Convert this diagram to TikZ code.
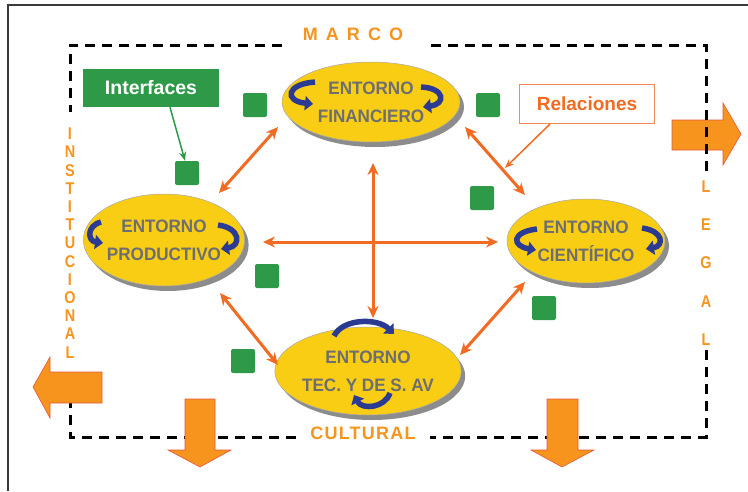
\documentclass[tikz,border=0pt]{standalone}
\usepackage{fontspec}
\setmainfont{Liberation Sans}
\newfontfamily\entfont[FakeStretch=0.95]{Liberation Sans}
\newfontfamily\lblfont[FakeStretch=0.85]{Liberation Sans}
\newfontfamily\marcofont[LetterSpace=45]{Liberation Sans}
\newfontfamily\cultfont[LetterSpace=7]{Liberation Sans}
\usetikzlibrary{shapes.geometric,shadows,arrows.meta}
\definecolor{entyellow}{HTML}{F9CD14}
\definecolor{entborder}{HTML}{A8A8A8}
\definecolor{shadowgray}{HTML}{8C8C8C}
\definecolor{entgray}{HTML}{6D6E71}
\definecolor{relorange}{HTML}{F26B22}
\definecolor{blockorange}{HTML}{F7941D}
\definecolor{blockborder}{HTML}{E2583E}
\definecolor{lblorange}{HTML}{F7941D}
\definecolor{ifgreen}{HTML}{2E9A48}
\definecolor{relborder}{HTML}{F58A5A}
\definecolor{swirlblue}{HTML}{2B3A93}
\definecolor{framegray}{HTML}{3A3A3A}
\tikzset{
  ent/.style={ellipse, draw=entborder, line width=0.5pt, fill=entyellow, inner sep=0pt,
    align=center, text=entgray, font=\entfont\bfseries\fontsize{18}{28}\selectfont,
    drop shadow={shadow xshift=4pt, shadow yshift=-5pt, fill=shadowgray, opacity=1}},
  swirl/.style={draw=swirlblue, line width=5.5pt, -{Triangle[length=8pt,width=14pt]}},
  rel/.style={draw=relorange, line width=3pt, {Stealth[length=12pt,width=11pt]}-{Stealth[length=12pt,width=11pt]}},
  iface/.style={fill=ifgreen, rounded corners=2pt, minimum size=24pt, inner sep=0pt},
  block/.style={fill=blockorange, draw=blockborder, line width=0.6pt, line join=miter},
  frame dash/.style={draw=black, line width=3pt, dash pattern=on 10pt off 7pt},
  lbl/.style={text=lblorange, inner sep=0pt},
}
\begin{document}
\begin{tikzpicture}[x=1pt,y=-1pt]
\useasboundingbox (0,0) rectangle (748,491);
\fill[white] (0,0) rectangle (748,491);
% outer frame
\draw[framegray, line width=2pt] (8,491) -- (8,5) -- (748,5);
% dashed frame (under the arrows)
\draw[frame dash] (282,45) -- (70,45) -- (70,112);
\draw[frame dash] (296,437) -- (70,437) -- (70,400);
\draw[frame dash] (706,350) -- (706,437) -- (430,437);
% block arrows
\draw[block] (102,372) -- (50,372) -- (50,357) -- (33,387) -- (50,418) -- (50,403) -- (102,403) -- cycle;
\draw[block] (185,399) -- (215,399) -- (215,450) -- (231,450) -- (200,467) -- (168,450) -- (185,450) -- cycle;
\draw[block] (547,399) -- (578,399) -- (578,450) -- (594,450) -- (562,467) -- (531,450) -- (547,450) -- cycle;
\draw[block] (672,120) -- (723,120) -- (723,103) -- (741,134) -- (723,165) -- (723,150) -- (672,150) -- cycle;
\draw[frame dash] (431,45) -- (706,45) -- (706,178);
% frame labels
\node[lbl, font=\marcofont\bfseries\fontsize{18}{18}\selectfont] (marco) at (353,34) {MARCO};
\node[lbl, font=\cultfont\bfseries\fontsize{18}{18}\selectfont] (cult) at (363,433) {CULTURAL};
\node[lbl, align=center, font=\lblfont\bfseries\fontsize{17}{18.2}\selectfont] (inst) at (70,243) {I\\N\\S\\T\\I\\T\\U\\C\\I\\O\\N\\A\\L};
\node[lbl, align=center, font=\lblfont\bfseries\fontsize{17}{38.25}\selectfont] (legal) at (706,263) {L\\E\\G\\A\\L};
% entornos
\node[ent, minimum width=178pt, minimum height=80pt] (fin) at (371,102) {ENTORNO\\FINANCIERO};
\node[ent, minimum width=160pt, minimum height=92pt] (prod) at (164,240) {ENTORNO\\PRODUCTIVO};
\node[ent, minimum width=158pt, minimum height=84pt] (cien) at (586,241) {ENTORNO\\CIENTÍFICO};
\node[ent, minimum width=182pt, minimum height=88pt] (tec) at (368,371) {ENTORNO\\TEC. Y DE S. AV};
% swirls
\draw[swirl] (315,82) .. controls (286,84) and (284,101) .. (313,104);
\draw[swirl] (421,87) .. controls (445,88) and (446,104) .. (423,107);
\draw[swirl] (101,222) .. controls (86,226) and (88,241) .. (103,243);
\draw[swirl] (218,225) .. controls (241,228) and (241,246) .. (221,249);
\draw[swirl] (537,229) .. controls (511,232) and (512,246) .. (536,250);
\draw[swirl] (642,228) .. controls (664,231) and (664,246) .. (646,249);
\draw[swirl] (334,336) .. controls (343,318) and (378,318) .. (394,334);
\draw[swirl] (390,393) .. controls (385,408) and (362,410) .. (354,395);
% relation arrows
\coordinate (fpA) at (278,127); \coordinate (fpB) at (219,193);
\coordinate (fcA) at (465,127); \coordinate (fcB) at (525,195);
\coordinate (ptA) at (220,293); \coordinate (ptB) at (278,365);
\coordinate (ctA) at (525,282); \coordinate (ctB) at (460,355);
\coordinate (hA) at (263,242); \coordinate (hB) at (498,242);
\coordinate (vA) at (373,163); \coordinate (vB) at (373,318);
\draw[rel] (fpA) -- (fpB);
\draw[rel] (fcA) -- (fcB);
\draw[rel] (ptA) -- (ptB);
\draw[rel] (ctA) -- (ctB);
\draw[rel] (hA) -- (hB);
\draw[rel] (vA) -- (vB);
% interface squares
\node[iface] (s1) at (255,105) {};
\node[iface] (s2) at (187,173) {};
\node[iface] (s3) at (488,105) {};
\node[iface] (s4) at (482,198) {};
\node[iface] (s5) at (267,276) {};
\node[iface] (s6) at (544,308) {};
\node[iface] (s7) at (243,361) {};
% labels
\node[fill=ifgreen, minimum width=136pt, minimum height=38pt, inner sep=0pt, text=white,
  font=\bfseries\fontsize{19.5}{20}\selectfont] (ifbox) at (151,88) {Interfaces};
\draw[ifgreen, line width=1.5pt, -{Stealth[length=9pt,width=7pt]}] ([xshift=19pt]ifbox.south) -- ([xshift=-2pt]s2.north);
\node[fill=white, draw=relborder, line width=1pt, minimum width=135pt, minimum height=39pt, inner sep=0pt,
  text=relorange, font=\bfseries\fontsize{19}{20}\selectfont] (relbox) at (587,104) {Relaciones};
\coordinate (relend) at (505,168);
\draw[relorange, line width=1.5pt, -{Stealth[length=9pt,width=7pt]}] ([xshift=-37pt]relbox.south) -- (relend);
\end{tikzpicture}
\end{document}
